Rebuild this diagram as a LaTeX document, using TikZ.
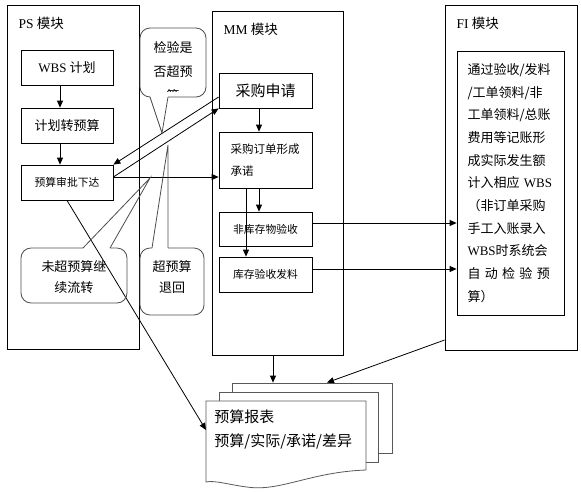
\documentclass[tikz,border=0pt]{standalone}
\usepackage{fontspec}
\setmainfont{Noto Sans CJK SC}
\newfontfamily\tnr{Liberation Serif}
\usetikzlibrary{calc, positioning, arrows.meta}
\newcommand{\fsz}[2]{\fontsize{#1}{#2}\selectfont}

\begin{document}
\begin{tikzpicture}[x=1pt,y=-1pt,line width=.8pt,
  box/.style={draw, inner sep=0pt, minimum width=93pt, minimum height=35pt},
  modbox/.style={draw, inner sep=0pt, minimum width=132pt, minimum height=344pt},
  arr/.style={-{Triangle[length=7pt,width=6pt]}},
  bubble/.style={draw=black!70, rounded corners=10pt},
  doc/.style={draw=black!65, fill=white, inner sep=0pt}]
\useasboundingbox (0,0) rectangle (581,491);
\node[modbox] (ps) at (73,177) {};
\node[modbox, minimum width=131pt] (mm) at (277.5,183) {};
\node[modbox, minimum height=345pt] (fi) at (511,177.5) {};
\node[anchor=west, font=\fsz{13.5}{16}] (pslab) at (15,23) {{\tnr PS} 模块};
\node[anchor=west, font=\fsz{13.5}{16}] (mmlab) at (220,29) {{\tnr MM} 模块};
\node[anchor=west, font=\fsz{13.5}{16}] (filab) at (453,23) {{\tnr FI} 模块};
% PS
\node[box, minimum width=92pt, font=\fsz{13}{16}] (wbs) at (67,67.5) {{\tnr WBS} 计划};
\node[box, minimum width=92pt, font=\fsz{13}{16}] (jhys) at (67,125.5) {计划转预算};
\node[box, minimum width=92pt, font=\fsz{10.8}{13}] (yssp) at (67,182.5) {预算审批下达};
\draw[arr] ([xshift=-7pt]wbs.south) -- ([xshift=-7pt]jhys.north);
\draw[arr] ([xshift=-7pt]jhys.south) -- ([xshift=-7pt]yssp.north);
% MM
\node[box, font=\fsz{15}{18}] (cgsq) at (265.5,90.5) {采购申请};
\node[box, minimum height=56pt, text width=70pt, align=left, font=\fsz{11.5}{22}] (cgdd) at (265.5,160) {采购订单形成\\承诺};
\node[box, minimum height=34pt, font=\fsz{10.8}{13}] (fkc) at (265.5,229) {非库存物验收};
\node[box, font=\fsz{10.8}{13}] (kcys) at (265.5,274.5) {库存验收发料};
\draw[arr] ([xshift=-6.5pt]cgsq.south) -- ([xshift=-6.5pt]cgdd.north);
\draw[arr] ([xshift=-6.5pt]cgdd.south) -- ([xshift=-6.5pt]fkc.north);
\draw[arr] ([xshift=-19.5pt]cgdd.south) -- ([xshift=-19.5pt]kcys.north);
% FI
\node[draw, inner sep=0pt, minimum width=107pt, minimum height=264pt, text width=86pt, align=left, font=\fsz{13}{22.7}] (fitxt) at (510.5,183)
  {通过验收/发料\\/工单领料/非\\工单领料/总账\\费用等记账形\\成实际发生额\\计入相应 {\tnr WBS}\\（非订单采购\\手工入账录入\\{\tnr WBS}时系统会\\自 动 检 验 预\\算）};
\draw[arr] ([yshift=6pt]fkc.east) -- ([yshift=6pt]fkc.east -| fitxt.west);
\draw[arr] ([yshift=5.5pt]kcys.east) -- ([yshift=5.5pt]kcys.east -| fitxt.west);
\draw[arr] ([yshift=-6.5pt]cgsq.west) -- (yssp.north east);
\draw[arr] ([yshift=5.5pt]yssp.east) -- (cgsq.south west);
\draw[arr] ([yshift=5.5pt]yssp.east) -- ([yshift=5.5pt]yssp.east -| cgdd.west);
% report
\node[doc, minimum width=160pt, minimum height=70pt] (doc3) at (312,418) {};
\node[doc, minimum width=159pt, minimum height=70pt] (doc2) at (298.5,427) {};
\filldraw[doc] (206,401) -- (366,401) -- (366,470) .. controls (310,472) and (280,492) .. (247,487) .. controls (230,485) and (215,480) .. (206,482) -- cycle;
\coordinate (doc1) at (206,430);
\node[anchor=west, align=left, font=\fsz{15}{24}, inner sep=0pt] (bb) at (214,429) {预算报表\\预算/实际/承诺/差异};
\draw[arr] ([xshift=-4.5pt]mm.south) -- ([xshift=-4.5pt]mm.south |- doc3.north);
\draw[arr] ([yshift=-162.5pt]fi.west) -- ([xshift=15pt]doc3.north);
\draw[arr] (yssp.south) -- (doc1);
% callouts
\draw[bubble] (168,97) -- (206,97) -- (206,28) -- (140,28) -- (140,97) -- (150,97);
\draw[draw=black!70] (150,97) -- (162,133) -- (168,97);
\begin{scope}
\clip (140,28) rectangle (206,91);
\node[align=center, font=\fsz{13}{24}] (jy) at (173,72) {检验是\\否超预\\算};
\end{scope}
\draw[bubble] (110,248) -- (127,248) -- (127,303) -- (21,303) -- (21,248) -- (83,248);
\draw[draw=black!70] (83,248) -- (150,178) -- (110,248);
\node[align=center, font=\fsz{13}{21}] (wc) at (74,277.5) {未超预算继\\续流转};
\draw[bubble] (168,248) -- (204,248) -- (204,315) -- (140,315) -- (140,248) -- (152,248);
\draw[draw=black!70] (152,248) -- (168,145) -- (168,248);
\node[align=center, font=\fsz{13}{21}] (cy) at (172,277.5) {超预算\\退回};
\end{tikzpicture}
\end{document}
